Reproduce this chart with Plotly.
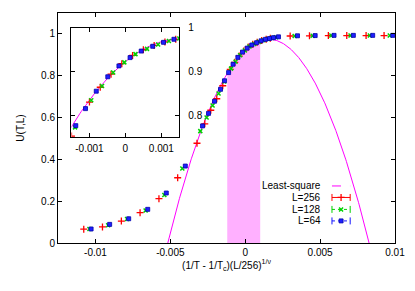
import numpy as np
import plotly.graph_objects as go

# ---- data ----
x_L256 = [-0.01078, -0.00953, -0.00827, -0.00702, -0.00576, -0.00451, -0.00322, -0.00270, -0.00230,
          -0.00190, -0.00150, -0.00100, -0.00070, -0.00040, -0.00010, 0.00020, 0.00050, 0.00080,
          0.00110, 0.00140, 0.00168, 0.00300, 0.00429, 0.00555, 0.00678, 0.00807, 0.00927]
y_L256 = [0.066, 0.077, 0.105, 0.145, 0.212, 0.312, 0.477, 0.570, 0.635,
          0.690, 0.752, 0.830, 0.864, 0.894, 0.918, 0.937, 0.950, 0.960,
          0.968, 0.974, 0.979, 0.990, 0.991, 0.992, 0.992, 0.992, 0.992]

x_L128 = [-0.01040, -0.00915, -0.00789, -0.00665, -0.00540, -0.00420, -0.00300, -0.00258, -0.00218,
          -0.00178, -0.00140, -0.00095, -0.00065, -0.00034, -0.00003, 0.00028, 0.00060, 0.00091,
          0.00121, 0.00150, 0.00177, 0.00205, 0.00330, 0.00450, 0.00575, 0.00703, 0.00832, 0.00965]
y_L128 = [0.067, 0.085, 0.115, 0.155, 0.230, 0.356, 0.535, 0.600, 0.658,
          0.715, 0.772, 0.834, 0.867, 0.898, 0.921, 0.940, 0.952, 0.962,
          0.970, 0.976, 0.980, 0.984, 0.990, 0.991, 0.992, 0.992, 0.992, 0.992]

x_L64 = [-0.01029, -0.00905, -0.00778, -0.00651, -0.00527, -0.00400, -0.00285, -0.00245, -0.00205,
         -0.00165, -0.00138, -0.00111, -0.00081, -0.00049, -0.00018, 0.00013, 0.00044, 0.00076,
         0.00106, 0.00135, 0.00162, 0.00189, 0.00222, 0.00349, 0.00467, 0.00593, 0.00722, 0.00851, 0.00985]
y_L64 = [0.067, 0.089, 0.116, 0.161, 0.239, 0.368, 0.560, 0.620, 0.678,
         0.735, 0.776, 0.815, 0.855, 0.888, 0.913, 0.932, 0.947, 0.958,
         0.967, 0.974, 0.978, 0.982, 0.986, 0.991, 0.992, 0.993, 0.993, 0.993, 0.993]

# least-square fit: U = A * (1 - ((x - x0)/w)^2)
fit_A = 0.975
fit_x0 = 0.00155
fit_w = 0.00672
shade_range = [-0.0012, 0.0010]

legend_labels = ["Least-square", "L=256", "L=128", "L=64"]

x_ticks_main = [-0.01, -0.005, 0, 0.005, 0.01]
x_ticklabels_main = ["-0.01", "-0.005", "0", "0.005", "0.01"]
y_ticks_main = [0, 0.2, 0.4, 0.6, 0.8, 1]
y_ticklabels_main = ["0", "0.2", "0.4", "0.6", "0.8", "1"]
x_ticks_inset = [-0.001, 0, 0.001]
x_ticklabels_inset = ["-0.001", "0", "0.001"]
y_ticks_inset = [0.8, 0.9, 1]
y_ticklabels_inset = ["0.8", "0.9", "1"]


def fit(x):
    return fit_A * (1 - ((x - fit_x0) / fit_w) ** 2)


xf = np.linspace(fit_x0 - fit_w, fit_x0 + fit_w, 400)
yf = fit(xf)
xs = np.linspace(shade_range[0], shade_range[1], 60)
ys = fit(xs)

FONT = "Liberation Sans, Arial, Helvetica, sans-serif"
FIT_COLOR = "rgb(255,0,255)"
fig = go.Figure()

# shaded fit region
fig.add_trace(go.Scatter(x=xs, y=ys, fill="tozeroy", mode="none",
                         fillcolor="rgb(255,176,255)", showlegend=False, hoverinfo="skip"))

series = [
    ("L=256", x_L256, y_L256, "rgb(255,0,0)", "solid",
     dict(symbol="cross-thin-open", color="rgb(255,0,0)", size=5,
          line=dict(color="rgb(255,0,0)", width=1.3))),
    ("L=128", x_L128, y_L128, "rgb(0,210,0)", "dot",
     dict(symbol="x-thin-open", color="rgb(0,210,0)", size=4,
          line=dict(color="rgb(0,210,0)", width=1.5))),
    ("L=64", x_L64, y_L64, "rgb(20,20,255)", "dot",
     dict(symbol="square", color="rgb(30,30,255)", size=4,
          line=dict(color="rgb(0,0,170)", width=0.8))),
]

# main plot
fig.add_trace(go.Scatter(x=xf, y=yf, mode="lines", showlegend=False,
                         line=dict(color=FIT_COLOR, width=1)))
for name, xv, yv, col, dash, mk in series:
    fig.add_trace(go.Scatter(x=xv, y=yv, mode="markers", name=name, marker=mk, showlegend=False))

# inset
fig.add_trace(go.Scatter(x=xf, y=yf, mode="lines", showlegend=False,
                         line=dict(color=FIT_COLOR, width=1), xaxis="x2", yaxis="y2"))
for name, xv, yv, col, dash, mk in series:
    fig.add_trace(go.Scatter(x=xv, y=yv, mode="markers", showlegend=False, marker=mk,
                             xaxis="x2", yaxis="y2"))

# gnuplot-style key (text right-aligned, sample to the right) on a hidden overlay axis
key_rows = [0.248, 0.198, 0.146, 0.096]
key_x0, key_x1, key_text = 0.813, 0.867, 0.787
fig.add_trace(go.Scatter(x=[key_x0, key_x1], y=[key_rows[0]] * 2, mode="lines",
                         line=dict(color=FIT_COLOR, width=1, dash="dash"),
                         xaxis="x3", yaxis="y3", showlegend=False, hoverinfo="skip"))
for row, (name, xv, yv, col, dash, mk) in zip(key_rows[1:], series):
    fig.add_trace(go.Scatter(x=[key_x0, key_x1], y=[row] * 2, mode="lines+markers",
                             line=dict(color=col, width=1, dash=dash),
                             marker=dict(symbol="line-ns", size=5, line=dict(color=col, width=1)),
                             xaxis="x3", yaxis="y3", showlegend=False, hoverinfo="skip"))
    fig.add_trace(go.Scatter(x=[(key_x0 + key_x1) / 2], y=[row], mode="markers", marker=mk,
                             xaxis="x3", yaxis="y3", showlegend=False, hoverinfo="skip"))
for row, label in zip(key_rows, legend_labels):
    fig.add_annotation(x=key_text, y=row, xref="x3", yref="y3", text=label, showarrow=False,
                       xanchor="right", yanchor="middle", font=dict(size=10, family=FONT, color="black"))

axis_common = dict(showline=True, linecolor="black", linewidth=1, mirror="ticks", ticks="inside",
                   ticklen=4, tickcolor="black", showgrid=False, zeroline=False, automargin=False,
                   tickfont=dict(size=10, color="black", family=FONT))

# the page body adds an 8px offset, so the figure is sized to fit the window after it
fig.update_layout(
    width=407, height=283,
    margin=dict(l=49.5, r=20, t=5, b=48),
    paper_bgcolor="white", plot_bgcolor="white",
    font=dict(family=FONT, size=10, color="black"),
    showlegend=False,
    xaxis=dict(range=[-0.0125, 0.01], tickvals=x_ticks_main, ticktext=x_ticklabels_main,
               title=dict(text="(1/T - 1/T<sub>c</sub>)(L/256)<sup>1/ν</sup>", standoff=4,
                          font=dict(size=10)), **axis_common),
    yaxis=dict(range=[0, 1.1], tickvals=y_ticks_main, ticktext=y_ticklabels_main,
               title=dict(text="U(T,L)", standoff=14, font=dict(size=10)), **axis_common),
    xaxis2=dict(domain=[0.04, 0.36], anchor="y2", range=[-0.0015, 0.0015],
                tickvals=x_ticks_inset, ticktext=x_ticklabels_inset, **axis_common),
    yaxis2=dict(domain=[0.461, 0.935], anchor="x2", range=[0.75, 1.0], side="right",
                tickvals=y_ticks_inset, ticktext=y_ticklabels_inset, **axis_common),
    xaxis3=dict(overlaying="x", range=[0, 1], visible=False, fixedrange=True, anchor="y3"),
    yaxis3=dict(overlaying="y", range=[0, 1], visible=False, fixedrange=True, anchor="x3"),
)
fig.update_xaxes(ticklabelstandoff=3, selector=dict(anchor="y"))
fig.update_xaxes(ticklabelstandoff=2, selector=dict(anchor="y2"))
fig.update_yaxes(ticklabelstandoff=5, selector=dict(anchor="x"))
fig.update_yaxes(ticklabelstandoff=6, selector=dict(anchor="x2"))

fig.write_html("out.html")
